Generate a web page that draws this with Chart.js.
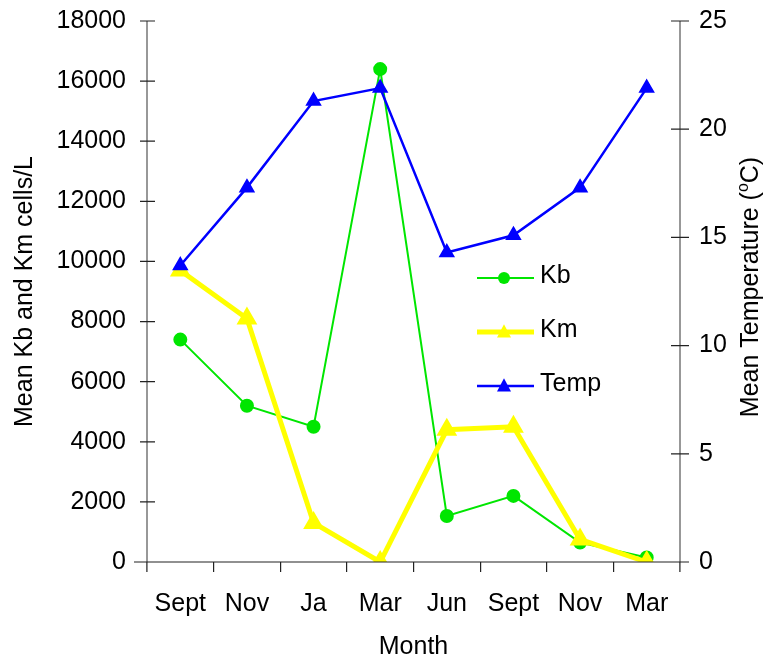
<!DOCTYPE html>
<html>
<head>
<meta charset="utf-8">
<script src="https://cdn.jsdelivr.net/npm/chart.js@4.4.1/dist/chart.umd.min.js"></script>
<style>
  html, body { margin: 0; padding: 0; background: #fff; }
  #wrap { width: 771px; height: 659px; }
</style>
</head>
<body>
<div id="wrap"><canvas id="chart" width="771" height="659"></canvas></div>
<script>
const months = ["Sept", "Nov", "Ja", "Mar", "Jun", "Sept", "Nov", "Mar"];
const kbCells = [7400, 5200, 4500, 16400, 1530, 2200, 650, 150];
const kmCells = [9700, 8100, 1300, 0, 4400, 4500, 750, 0];
const meanTemp = [13.7, 17.3, 21.3, 21.9, 14.3, 15.1, 17.3, 21.9];

const cellTicks = [0, 2000, 4000, 6000, 8000, 10000, 12000, 14000, 16000, 18000];
const tempTicks = [0, 5, 10, 15, 20, 25];

const FONT = "'Liberation Sans', Arial, sans-serif";
const FONT_SIZE = 25;

// axis lines plus tick marks that cross the vertical axes
const axisPlugin = {
  id: "axisLines",
  afterDatasetsDraw(chart) {
    const { ctx, chartArea: a, scales } = chart;
    ctx.save();
    ctx.lineWidth = 1.5;
    ctx.strokeStyle = "#777";
    ctx.beginPath();
    ctx.moveTo(a.left, a.top); ctx.lineTo(a.left, a.bottom + 10);
    ctx.moveTo(a.right, a.top); ctx.lineTo(a.right, a.bottom + 10);
    ctx.stroke();

    ctx.strokeStyle = "#222";
    ctx.lineWidth = 1.2;
    ctx.beginPath();
    ctx.moveTo(a.left - 13, a.bottom); ctx.lineTo(a.right + 8, a.bottom);
    cellTicks.forEach((v) => {
      const y = scales.y.getPixelForValue(v);
      ctx.moveTo(a.left - 7, y); ctx.lineTo(a.left + 8, y);
    });
    tempTicks.forEach((v) => {
      const y = scales.y1.getPixelForValue(v);
      ctx.moveTo(a.right - 9, y); ctx.lineTo(a.right + 9, y);
    });
    ctx.stroke();
    ctx.restore();
  },
};

// right axis title reads bottom-to-top like the left one, with a raised "o"
const rightTitlePlugin = {
  id: "rightTitle",
  afterDraw(chart) {
    const { ctx } = chart;
    const main = "Mean Temperature (";
    const tail = "C)";
    const big = FONT_SIZE + "px " + FONT;
    const small = Math.round(FONT_SIZE * 0.62) + "px " + FONT;
    ctx.save();
    ctx.translate(751, 287);
    ctx.rotate(-Math.PI / 2);
    ctx.fillStyle = "#000";
    ctx.textBaseline = "middle";
    ctx.textAlign = "left";
    ctx.font = big;
    const w1 = ctx.measureText(main).width;
    const w3 = ctx.measureText(tail).width;
    ctx.font = small;
    const w2 = ctx.measureText("o").width;
    let x = -(w1 + w2 + w3) / 2;
    ctx.font = big;
    ctx.fillText(main, x, 0);
    x += w1;
    ctx.font = small;
    ctx.fillText("o", x, -7);
    x += w2;
    ctx.font = big;
    ctx.fillText(tail, x, 0);
    ctx.restore();
  },
};

// legend sitting inside the plot
const legendPlugin = {
  id: "insideLegend",
  afterDraw(chart) {
    const { ctx } = chart;
    const rows = [278, 332, 386];
    ctx.save();
    chart.data.datasets.forEach((ds, i) => {
      const y = rows[i];
      ctx.strokeStyle = ds.borderColor;
      ctx.lineWidth = ds.borderWidth;
      ctx.beginPath();
      ctx.moveTo(477, y); ctx.lineTo(534, y);
      ctx.stroke();
      ctx.fillStyle = ds.pointBackgroundColor;
      ctx.beginPath();
      if (ds.pointStyle === "circle") {
        ctx.arc(504, y, ds.pointRadius, 0, Math.PI * 2);
      } else {
        const r = ds.pointRadius;
        ctx.moveTo(504, y - r * 1.1);
        ctx.lineTo(504 + r, y + r * 0.8);
        ctx.lineTo(504 - r, y + r * 0.8);
        ctx.closePath();
      }
      ctx.fill();
      ctx.fillStyle = "#000";
      ctx.font = FONT_SIZE + "px " + FONT;
      ctx.textBaseline = "middle";
      ctx.fillText(ds.label, 540, y - 2);
    });
    ctx.restore();
  },
};

const tickFont = { family: FONT, size: FONT_SIZE };

// fixed axis width, no extra room reserved for the end labels
function fixWidth(w) {
  return (scale) => {
    scale.width = w;
    scale.paddingTop = 0;
    scale.paddingBottom = 0;
  };
}

new Chart(document.getElementById("chart"), {
  type: "line",
  data: {
    labels: months,
    datasets: [
      {
        label: "Kb",
        data: kbCells,
        yAxisID: "y",
        borderColor: "#00e600",
        backgroundColor: "#00e600",
        pointBackgroundColor: "#00e600",
        pointBorderColor: "#00e600",
        borderWidth: 2,
        pointStyle: "circle",
        pointRadius: 6,
        order: 3,
      },
      {
        label: "Km",
        data: kmCells,
        yAxisID: "y",
        borderColor: "#ffff00",
        backgroundColor: "#ffff00",
        pointBackgroundColor: "#ffff00",
        pointBorderColor: "#ffff00",
        borderWidth: 5,
        pointStyle: "triangle",
        pointRadius: 7,
        order: 2,
      },
      {
        label: "Temp",
        data: meanTemp,
        yAxisID: "y1",
        borderColor: "#0000ff",
        backgroundColor: "#0000ff",
        pointBackgroundColor: "#0000ff",
        pointBorderColor: "#0000ff",
        borderWidth: 2.5,
        pointStyle: "triangle",
        pointRadius: 7,
        order: 1,
      },
    ],
  },
  options: {
    responsive: false,
    animation: false,
    layout: { padding: { top: 21, left: 0, right: 0, bottom: 0 } },
    plugins: {
      legend: { display: false },
      tooltip: { enabled: false },
    },
    elements: { line: { tension: 0 } },
    scales: {
      x: {
        offset: true,
        grid: {
          offset: true,
          drawOnChartArea: false,
          drawTicks: true,
          tickLength: 10,
          color: "#222",
          lineWidth: 1.2,
        },
        border: { display: false },
        ticks: { color: "#000", font: tickFont, padding: 17, maxRotation: 0, autoSkip: false },
        title: { display: true, text: "Month", color: "#000", font: tickFont, padding: { top: 0, bottom: -3 } },
        afterFit(scale) { scale.height = 97; },
      },
      y: {
        position: "left",
        min: 0,
        max: 18000,
        grid: { display: false, drawTicks: false },
        border: { display: false },
        ticks: { stepSize: 2000, color: "#000", font: tickFont, padding: 21, callback: (v) => String(v) },
        title: { display: true, text: "Mean Kb and Km cells/L", color: "#000", font: tickFont, padding: { top: 10, bottom: 0 } },
        afterFit: fixWidth(147),
      },
      y1: {
        position: "right",
        min: 0,
        max: 25,
        grid: { display: false, drawTicks: false },
        border: { display: false },
        ticks: { stepSize: 5, color: "#000", font: tickFont, padding: 19, callback: (v) => String(v) },
        afterFit: fixWidth(91),
      },
    },
  },
  plugins: [axisPlugin, legendPlugin, rightTitlePlugin],
});
</script>
</body>
</html>
